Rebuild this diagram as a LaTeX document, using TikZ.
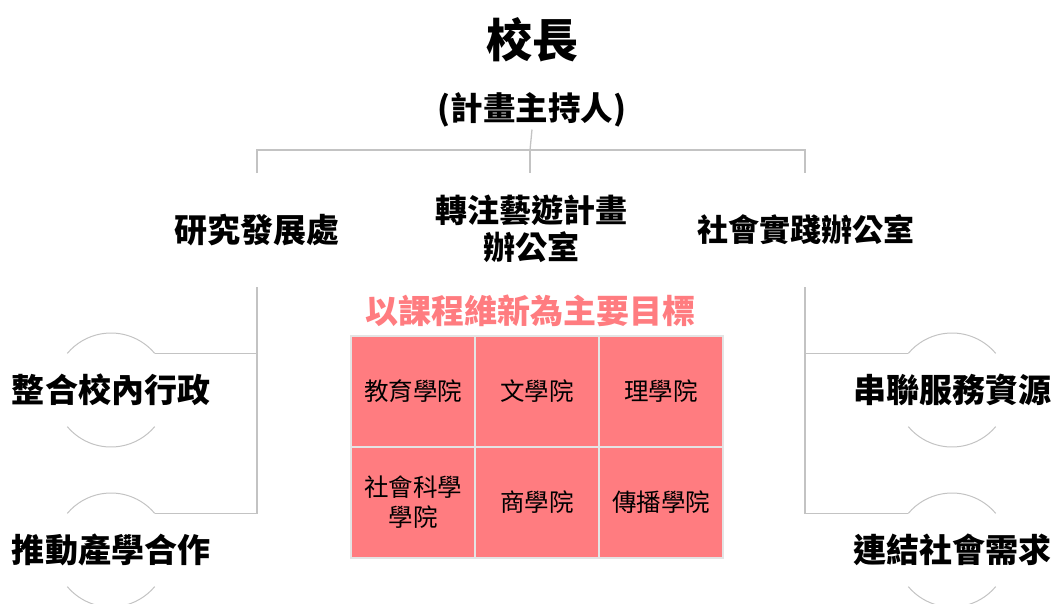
\documentclass[tikz,border=0pt]{standalone}
\usepackage{fontspec}
\setmainfont{Noto Sans CJK TC}
\usetikzlibrary{calc}

\definecolor{linegray}{RGB}{195,195,195}
\definecolor{salmon}{RGB}{255,124,128}
\definecolor{cellline}{RGB}{228,228,228}

\tikzset{
  unit/.style={font=\bfseries\fontsize{32}{37}\selectfont, align=center, inner sep=0pt},
  aim/.style={font=\bfseries\fontsize{33}{36}\selectfont, inner sep=0pt},
  college/.style={draw=cellline, line width=1.5pt, fill=salmon, minimum width=124pt, minimum height=111pt, font=\fontsize{24.5}{30}\selectfont, align=center, inner sep=0pt},
  link/.style={draw=linegray, line width=1.3pt},
  halo/.style={draw=linegray, line width=1pt}
}

\begin{document}
\begin{tikzpicture}[x=1pt,y=-1pt]
\useasboundingbox (0,0) rectangle (1056,603);

% Define nodes
\node[inner sep=0pt, font=\bfseries\fontsize{46}{50}\selectfont] (pres) at (532,40) {校長};
\node[inner sep=2pt, font=\bfseries\fontsize{32.5}{36}\selectfont] (pi) at (532,110) {(計畫主持人)};
\node[unit, font=\bfseries\fontsize{33}{37}\selectfont] (rd) at (257,230) {研究發展處};
\node[unit] (office) at (531,229) {轉注藝遊計畫\\辦公室};
\node[unit, font=\bfseries\fontsize{31}{37}\selectfont] (sp) at (806,230) {社會實踐辦公室};

\node[unit, font=\bfseries\fontsize{33}{37}\selectfont] (adm) at (111,390) {整合校內行政};
\node[unit, font=\bfseries\fontsize{33}{37}\selectfont] (ind) at (111,550) {推動產學合作};
\node[unit, font=\bfseries\fontsize{33}{37}\selectfont] (res) at (952,390) {串聯服務資源};
\node[unit, font=\bfseries\fontsize{33}{37}\selectfont] (need) at (952,550) {連結社會需求};

% Define coordinates
\coordinate (bus) at (530,150); % junction under the principal
\coordinate (rdtop) at (257,173);
\coordinate (officetop) at (530,173);
\coordinate (sptop) at (805,173);
\coordinate (rdbot) at (257,287);
\coordinate (spbot) at (805,287);

% Draw the tree
\draw[link] (pi.south) -- (bus);
\draw[link] (rdtop) |- (bus) -| (sptop);
\draw[link] (bus) -- (officetop);

% Draw the side branches ending on the half circles
\draw[link] (rdbot) |- ([shift={(40:57pt)}]adm.center);
\draw[link] (rdbot) |- ([shift={(40:57pt)}]ind.center);
\draw[link] (spbot) |- ([shift={(140:57pt)}]res.center);
\draw[link] (spbot) |- ([shift={(140:57pt)}]need.center);

\foreach \goal in {adm,ind,res,need}{
  \draw[halo] ([shift={(40:57pt)}]\goal.center) arc[start angle=40, end angle=140, radius=57pt];
  \draw[halo] ([shift={(220:57pt)}]\goal.center) arc[start angle=220, end angle=320, radius=57pt];
}

% Colleges
\node[aim, text=salmon] (renew) at (530,311) {以課程維新為主要目標};
\foreach \name/\col/\row/\txt in {edu/0/0/{教育學院}, lit/1/0/{文學院}, sci/2/0/{理學院},
    soc/0/1/{社會科學\\學院}, biz/1/1/{商學院}, com/2/1/{傳播學院}}
  \node[college] (\name) at (413+124*\col,391.5+111*\row) {\txt};

\end{tikzpicture}
\end{document}
